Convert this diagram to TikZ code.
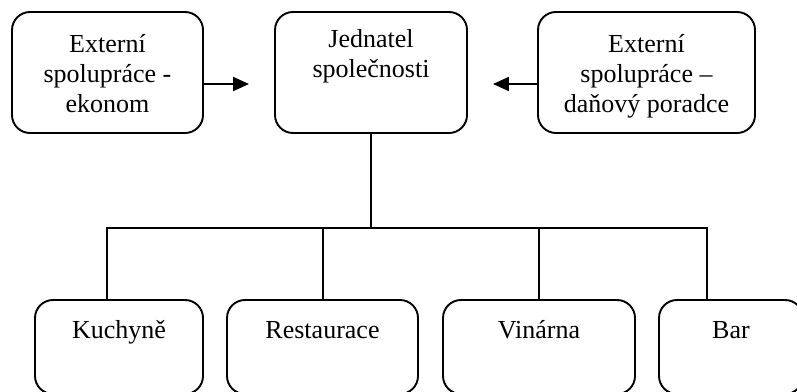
\documentclass[tikz,border=0pt]{standalone}
\usepackage{fontspec}
\setmainfont{Liberation Serif}
\usetikzlibrary{arrows.meta}
\newcommand{\boxlines}[1]{\vtop{\baselineskip=30pt\halign{\hfil##\hfil\cr#1\crcr}}}
\tikzset{
  orgbox/.style={draw, line width=1.9pt, rounded corners=18pt, inner sep=0pt},
  orgtext/.style={anchor=base, inner sep=0pt, font=\fontsize{26}{30}\selectfont},
  link/.style={line width=1.9pt},
  arr/.style={line width=1.9pt, -{Triangle[length=16pt,width=14pt]}}
}
\begin{document}
\begin{tikzpicture}[x=1pt,y=-1pt]
\clip (0,0) rectangle (797,391);
\fill[white] (0,0) rectangle (797,391);
% top row
\node[orgbox, minimum width=191pt, minimum height=121pt] (ekonom) at (107.5,72.5) {};
\node[orgbox, minimum width=192pt, minimum height=121pt] (jednatel) at (371,72.5) {};
\node[orgbox, minimum width=217pt, minimum height=121pt] (poradce) at (646.5,72.5) {};
\node[orgtext] (tekonom) at (107.5,52) {\boxlines{Externí\cr spolupráce -\cr ekonom}};
\node[orgtext] (tjednatel) at (371,47) {\boxlines{Jednatel\cr společnosti}};
\node[orgtext] (tporadce) at (646.5,52) {\boxlines{Externí\cr spolupráce –\cr daňový poradce}};
% bottom row
\node[orgbox, minimum width=168pt, minimum height=94pt] (kuchyne) at (119,347) {};
\node[orgbox, minimum width=191pt, minimum height=94pt] (restaurace) at (322.5,347) {};
\node[orgbox, minimum width=192pt, minimum height=94pt] (vinarna) at (539,347) {};
\node[orgbox, minimum width=144pt, minimum height=94pt] (bar) at (731,347) {};
\node[orgtext] (tkuchyne) at (119,338) {Kuchyně};
\node[orgtext] (trestaurace) at (322.5,338) {Restaurace};
\node[orgtext] (tvinarna) at (539,338) {Vinárna};
\node[orgtext] (tbar) at (731,338) {Bar};
% arrows
\draw[arr, shorten >=25pt] ([yshift=-11.5pt]ekonom.east) -- ([yshift=-11.5pt]jednatel.west);
\draw[arr, shorten >=25pt] ([yshift=-11.5pt]poradce.west) -- ([yshift=-11.5pt]jednatel.east);
% tree
\coordinate (hub) at (371,228);
\draw[link] (jednatel.south) -- (hub);
\draw[link] (kuchyne.north -| 107,0) |- (hub);
\draw[link] (bar.north -| 707,0) |- (hub);
\draw[link] (restaurace.north -| 323,0) -- (323,228);
\draw[link] (vinarna.north) -- (vinarna.north |- hub);
\end{tikzpicture}
\end{document}
